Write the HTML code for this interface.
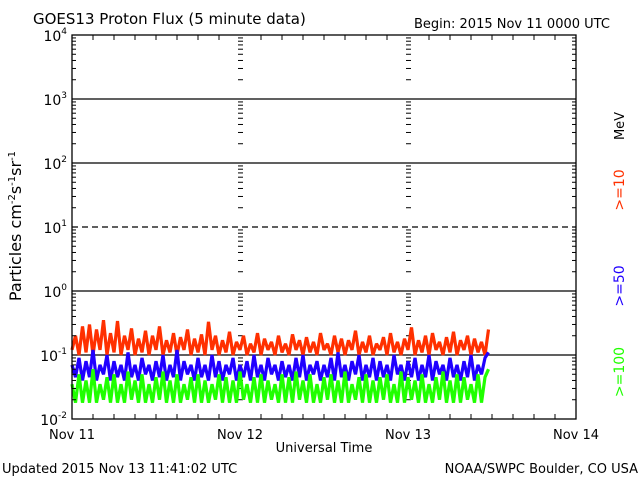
<!DOCTYPE html>
<html><head><meta charset="utf-8"><style>
body{margin:0;background:#fff;}
svg{display:block;font-family:"DejaVu Sans","Liberation Sans",sans-serif;}
</style></head><body>
<svg id="chart" width="640" height="480" viewBox="0 0 640 480" xmlns="http://www.w3.org/2000/svg">
<rect width="640" height="480" fill="#fff"/>
<text x="33" y="24" font-size="15">GOES13 Proton Flux (5 minute data)</text>
<text x="414" y="28" font-size="13">Begin: 2015 Nov 11 0000 UTC</text>
<text transform="translate(21,226) rotate(-90)" text-anchor="middle" font-size="16">Particles cm<tspan font-size="10" dy="-6">-2</tspan><tspan dy="6">s</tspan><tspan font-size="10" dy="-6">-1</tspan><tspan dy="6">sr</tspan><tspan font-size="10" dy="-6">-1</tspan></text>
<text x="324" y="452" text-anchor="middle" font-size="13">Universal Time</text>
<text x="2" y="473" font-size="13">Updated 2015 Nov 13 11:41:02 UTC</text>
<text x="638" y="473" text-anchor="end" font-size="13">NOAA/SWPC Boulder, CO USA</text>
<text transform="translate(624,126) rotate(-90)" text-anchor="middle" font-size="13">MeV</text>
<text transform="translate(624,190) rotate(-90)" text-anchor="middle" font-size="14" fill="#ff3000">&gt;=10</text>
<text transform="translate(624,286) rotate(-90)" text-anchor="middle" font-size="14" fill="#2000ff">&gt;=50</text>
<text transform="translate(624,372) rotate(-90)" text-anchor="middle" font-size="14" fill="#20ff00">&gt;=100</text>
<g id="grid"></g><g id="series"></g><g id="axes"></g>
</svg>
<script>
const dayLabels=["Nov 11","Nov 12","Nov 13","Nov 14"];
const decadeExps=[-2,-1,0,1,2,3,4];
const stepHours=0.5;
const red=[0.12,0.2,0.1,0.28,0.11,0.3,0.1,0.25,0.12,0.35,0.1,0.22,0.11,0.34,0.1,0.2,0.12,0.26,0.1,0.18,0.11,0.24,0.1,0.2,0.12,0.28,0.1,0.17,0.11,0.22,0.1,0.19,0.12,0.25,0.1,0.18,0.11,0.21,0.1,0.33,0.12,0.2,0.1,0.17,0.11,0.23,0.1,0.16,0.12,0.2,0.1,0.15,0.11,0.22,0.1,0.18,0.12,0.16,0.1,0.2,0.11,0.15,0.1,0.21,0.12,0.17,0.1,0.19,0.11,0.16,0.1,0.22,0.12,0.15,0.1,0.2,0.11,0.18,0.1,0.17,0.12,0.24,0.1,0.16,0.11,0.2,0.1,0.15,0.12,0.19,0.1,0.22,0.11,0.16,0.1,0.18,0.12,0.27,0.1,0.17,0.11,0.2,0.1,0.22,0.12,0.16,0.1,0.19,0.11,0.23,0.1,0.17,0.12,0.2,0.1,0.18,0.11,0.16,0.1,0.25];
const blue=[0.07,0.045,0.09,0.04,0.08,0.045,0.12,0.04,0.07,0.05,0.1,0.04,0.08,0.045,0.07,0.04,0.11,0.045,0.07,0.04,0.09,0.05,0.07,0.04,0.08,0.045,0.1,0.04,0.07,0.045,0.12,0.04,0.08,0.05,0.07,0.04,0.09,0.045,0.07,0.04,0.1,0.045,0.08,0.04,0.07,0.05,0.09,0.04,0.07,0.045,0.08,0.04,0.1,0.045,0.07,0.04,0.09,0.05,0.07,0.04,0.08,0.045,0.07,0.04,0.09,0.045,0.1,0.04,0.07,0.05,0.08,0.04,0.07,0.045,0.09,0.04,0.11,0.045,0.07,0.04,0.08,0.05,0.1,0.04,0.07,0.045,0.09,0.04,0.08,0.045,0.07,0.04,0.1,0.05,0.07,0.04,0.08,0.045,0.09,0.04,0.07,0.045,0.1,0.04,0.08,0.05,0.07,0.04,0.09,0.045,0.07,0.04,0.08,0.045,0.1,0.04,0.07,0.05,0.09,0.11];
const green=[0.035,0.018,0.05,0.018,0.04,0.018,0.06,0.018,0.035,0.02,0.045,0.018,0.05,0.018,0.035,0.018,0.055,0.02,0.04,0.018,0.05,0.018,0.035,0.018,0.045,0.02,0.055,0.018,0.04,0.018,0.05,0.018,0.035,0.02,0.045,0.018,0.05,0.018,0.04,0.018,0.035,0.02,0.05,0.018,0.045,0.018,0.04,0.018,0.055,0.02,0.035,0.018,0.045,0.018,0.05,0.018,0.04,0.02,0.035,0.018,0.05,0.018,0.045,0.018,0.055,0.02,0.04,0.018,0.05,0.018,0.035,0.018,0.045,0.02,0.05,0.018,0.04,0.018,0.055,0.018,0.035,0.02,0.045,0.018,0.05,0.018,0.04,0.018,0.045,0.02,0.05,0.018,0.035,0.018,0.055,0.018,0.045,0.02,0.04,0.018,0.05,0.018,0.035,0.018,0.045,0.02,0.055,0.018,0.04,0.018,0.05,0.018,0.045,0.02,0.035,0.018,0.05,0.018,0.045,0.06];
const L=72,R=576,T=35,B=419;
const xs=h=>L+h*(R-L)/72;
const ys=v=>T+(4-Math.log10(v))*(B-T)/6;
const NS="http://www.w3.org/2000/svg";
function mk(tag,attrs,parent){const e=document.createElementNS(NS,tag);for(const k in attrs)e.setAttribute(k,attrs[k]);parent.appendChild(e);return e;}
const grid=document.getElementById('grid'),axes=document.getElementById('axes'),ser=document.getElementById('series');
decadeExps.forEach(e=>{
  if(e===-2||e===4)return;
  const y=ys(Math.pow(10,e));
  const ln=mk('line',{x1:L,x2:R,y1:y,y2:y,stroke:'#000','stroke-width':1.3},grid);
  
  
  if(e===1)ln.setAttribute('stroke-dasharray','6,4');
});
[1,2].forEach(d=>{
  const x=xs(d*24);
  decadeExps.slice(0,-1).forEach(e=>{
    for(let m=2;m<=9;m++){const y=ys(m*Math.pow(10,e));
      const t=mk('line',{x1:x-2,x2:x+3,y1:y,y2:y,stroke:'#000','stroke-width':1},grid);
      
      }
  });
});
function draw(arr,color,name){
  const pts=arr.map((v,i)=>xs(i*stepHours).toFixed(1)+','+ys(v).toFixed(1)).join(' ');
  const p=mk('polyline',{points:pts,fill:'none',stroke:color,'stroke-width':3.2,'stroke-linejoin':'bevel'},ser);
  
  
}
draw(red,'#ff3000','series-ge10');
draw(blue,'#2000ff','series-ge50');
draw(green,'#20ff00','series-ge100');
const fr=mk('rect',{x:L,y:T,width:R-L,height:B-T,fill:'none',stroke:'#000','stroke-width':1.3},axes);


for(let h=3;h<72;h+=3){const x=xs(h);const len=5;
  if(h%24===0)continue;
  const a=mk('line',{x1:x,x2:x,y1:B,y2:B-len,stroke:'#000'},axes);
  
  
  const b=mk('line',{x1:x,x2:x,y1:T,y2:T+len,stroke:'#000'},axes);
  
  }
dayLabels.forEach((s,i)=>{const t=mk('text',{x:xs(i*24),y:439,'text-anchor':'middle','font-size':13},axes);t.textContent=s;
  
  });
decadeExps.forEach(e=>{
  const y=ys(Math.pow(10,e));
  const t=mk('text',{x:L-5,y:y+6,'text-anchor':'end','font-size':14},axes);
  
  
  t.innerHTML='10<tspan font-size="9" dy="-7">'+e+'</tspan>';
  if(e<4)for(let m=2;m<=9;m++){const yy=ys(m*Math.pow(10,e));
    const a=mk('line',{x1:L,x2:L+4,y1:yy,y2:yy,stroke:'#000'},axes);
    
    
    const b=mk('line',{x1:R,x2:R-4,y1:yy,y2:yy,stroke:'#000'},axes);
    
    }
});
</script>
</body></html>
